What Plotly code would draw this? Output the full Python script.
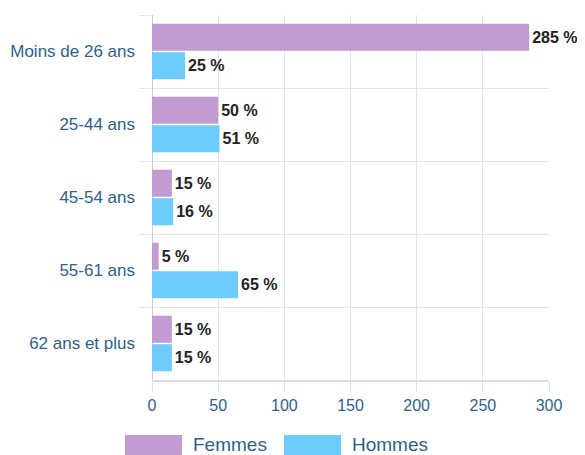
import plotly.graph_objects as go

categories = ["Moins de 26 ans", "25-44 ans", "45-54 ans", "55-61 ans", "62 ans et plus"]
series_names = ["Femmes", "Hommes"]
femmes = [285, 50, 15, 5, 15]
hommes = [25, 51, 16, 65, 15]
x_ticks = [0, 50, 100, 150, 200, 250, 300]

colors = ["#c39bd3", "#6ecbfd"]
axis_color = "#2f5f8a"
grid = "#e3e3e3"

# the page body has an 8px default margin; compensate so the plot sits where the reference has it
W, H = 577, 447
L, R, T, B = 144, 36, 7, 75
plot_w = W - L - R
plot_h = H - T - B

fig = go.Figure()
for name, vals, col in zip(series_names, [femmes, hommes], colors):
    fig.add_trace(go.Bar(
        y=categories, x=vals, name=name, orientation="h",
        marker=dict(color=col, line=dict(width=0)),
        texttemplate="%{x} %", textposition="outside",
        textfont=dict(family="Liberation Sans, Arial", size=16, color="#222222", weight="bold"),
        cliponaxis=False, showlegend=False,
    ))

fig.update_layout(
    width=W, height=H,
    margin=dict(l=L, r=R, t=T, b=B, autoexpand=False),
    paper_bgcolor="white", plot_bgcolor="white",
    barmode="group", bargap=0.22, bargroupgap=0.05,
    font=dict(family="Liberation Sans, Arial", color=axis_color, size=16),
)
fig.update_xaxes(
    range=[0, 300], tickvals=x_ticks, showgrid=True, gridcolor=grid, gridwidth=1,
    zeroline=True, zerolinecolor="#cccccc", zerolinewidth=1,
    showline=True, linecolor="#dcdcdc", linewidth=2,
    ticks="outside", ticklen=10, tickcolor=grid, automargin=False,
    tickfont=dict(size=16, color=axis_color),
)
fig.update_yaxes(
    type="category", autorange="reversed", tickson="boundaries",
    showgrid=True, gridcolor=grid, gridwidth=1,
    ticks="outside", ticklen=12, tickcolor=grid,
    ticklabelstandoff=16, automargin=False,
    showline=False, tickfont=dict(size=17, color=axis_color),
)

# custom legend with wide swatches (screen px converted to paper coords)
legend_x = [125, 284]
for name, col, lx in zip(series_names, colors, legend_x):
    sx = lx - 8
    fig.add_shape(type="rect", xref="paper", yref="paper",
                  x0=(sx - L) / plot_w, x1=(sx + 57 - L) / plot_w,
                  y0=(372 - 448) / plot_h, y1=(372 - 427) / plot_h,
                  fillcolor=col, line=dict(width=0))
    fig.add_annotation(xref="paper", yref="paper", x=(sx + 66 - L) / plot_w,
                       y=(372 - 436) / plot_h, text=name, showarrow=False,
                       xanchor="left", yanchor="middle",
                       font=dict(size=19, color=axis_color))

fig.write_html("out.html")
